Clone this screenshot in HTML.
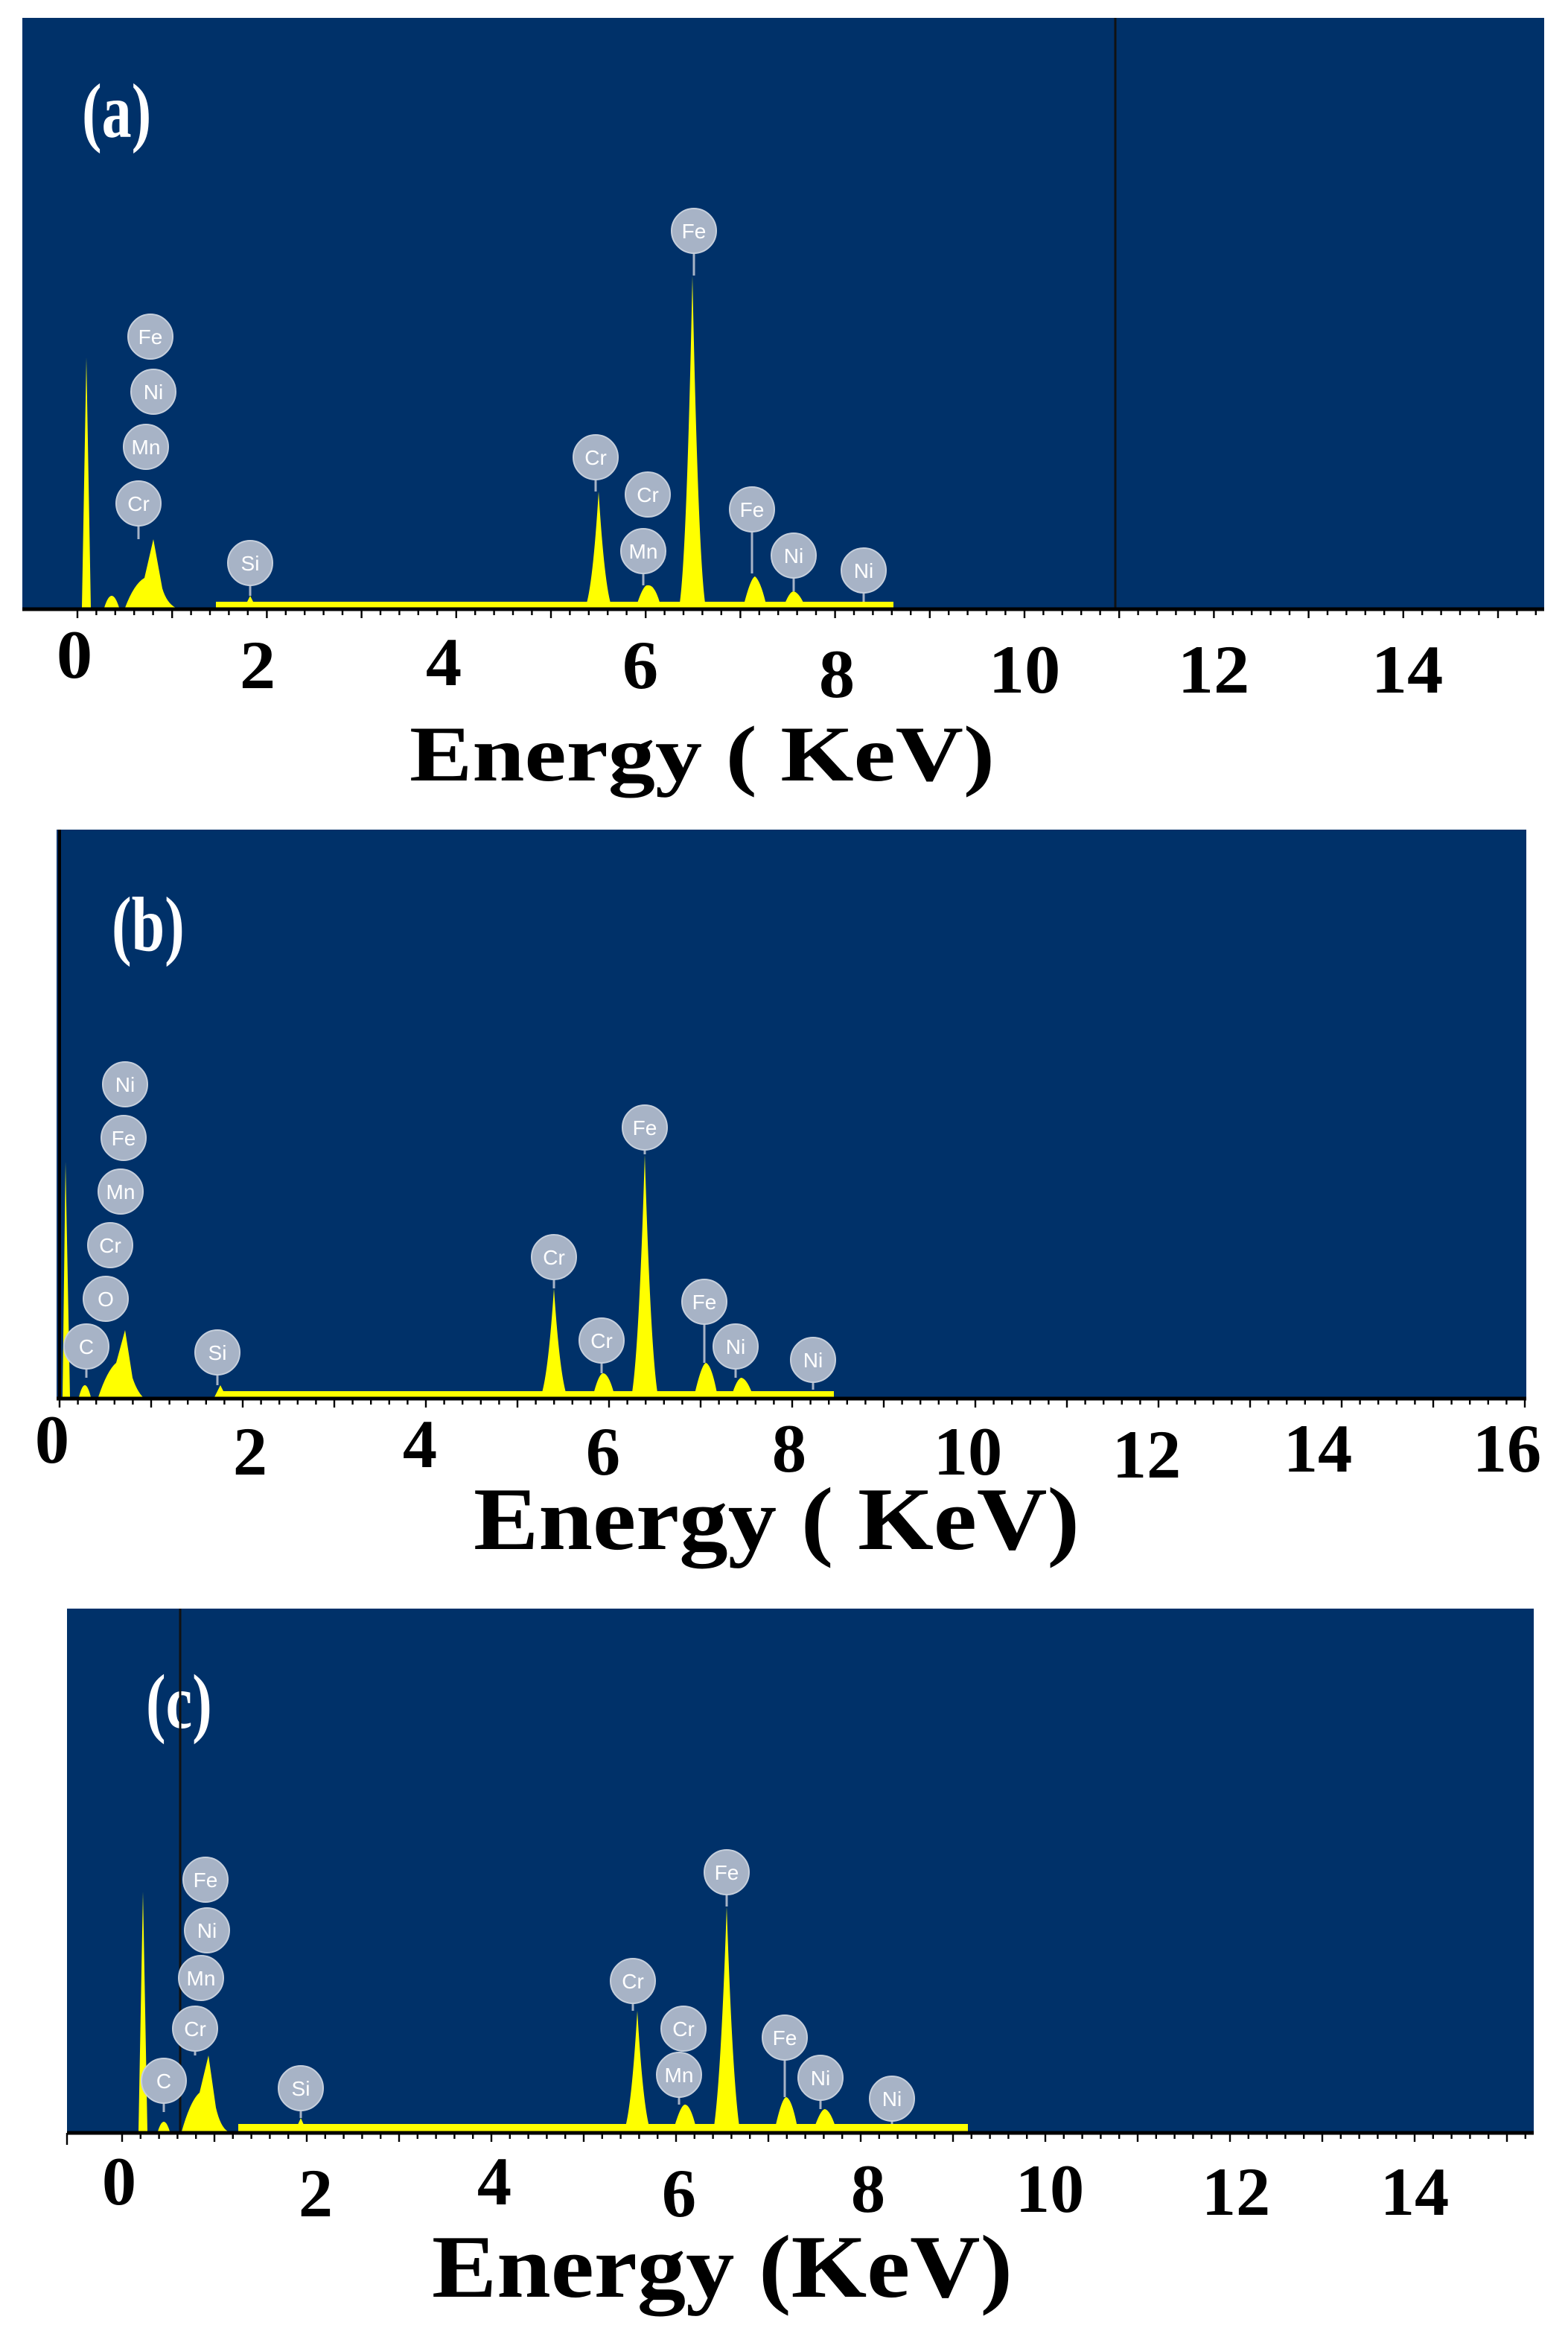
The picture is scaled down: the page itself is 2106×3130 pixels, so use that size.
<!DOCTYPE html>
<html><head><meta charset="utf-8"><style>
html,body{margin:0;padding:0;background:#fff}
svg{display:block}
text{font-family:"Liberation Serif",serif;font-weight:bold}
.lb circle{fill:#a7b3c6;stroke:#c6cfdc;stroke-width:1}
.lb text{font-family:"Liberation Sans",sans-serif;font-weight:normal;fill:#fff;font-size:14px;text-anchor:middle}
.lb line{stroke:#a7b3c6;stroke-width:1.5}
.pk{fill:#ffff00}
</style></head><body>
<svg width="2106" height="3130" viewBox="0 0 1053 1565" xmlns="http://www.w3.org/2000/svg">

<!-- ===== Panel A ===== -->
<rect x="15" y="12" width="1022" height="397" fill="#003169"/>
<line x1="749" y1="12" x2="749" y2="409" stroke="#111" stroke-width="1.5"/>
<text transform="translate(55 92) scale(1 1.3)" fill="#fff" font-size="40">(a)</text>
<rect x="145" y="404" width="455" height="4" class="pk"/>
<g class="pk">
<path d="M55,408 L58,240 L61,408Z"/>
<path d="M70,408 Q75,392 80,408Z"/>
<path d="M84,408 Q90,392 97,388 L103,362 L109,395 Q112,405 118,408Z"/>
<path d="M164,408 L168,400 L172,408Z"/>
<path d="M393,408 Q398,395 402,330 Q406,395 411,408Z"/>
<path d="M427,408 Q432,392 435,393 Q440,392 444,408Z"/>
<path d="M456,408 Q461,380 465,185 Q469,380 474,408Z"/>
<path d="M499,408 Q504,388 507,387 Q511,390 515,408Z"/>
<path d="M526,408 Q530,397 533,397 Q537,398 541,408Z"/>
</g>
<line x1="15" y1="409" x2="1037" y2="409" stroke="#000" stroke-width="2.5"/>
<g stroke="#000" stroke-width="1.2">
<path d="M52,409v6M64.7,409v4M77.4,409v4M90.1,409v4M102.8,409v4M115.6,409v6M128.3,409v4M141,409v4M153.7,409v4M166.4,409v4M179.2,409v6M191.9,409v4M204.6,409v4M217.3,409v4M230,409v4M242.8,409v6M255.5,409v4M268.2,409v4M280.9,409v4M293.6,409v4M306.4,409v6M319.1,409v4M331.8,409v4M344.5,409v4M357.2,409v4M370,409v6M382.7,409v4M395.4,409v4M408.1,409v4M420.8,409v4M433.6,409v6M446.3,409v4M459,409v4M471.7,409v4M484.4,409v4M497.2,409v6M509.9,409v4M522.6,409v4M535.3,409v4M548,409v4M560.8,409v6M573.5,409v4M586.2,409v4M598.9,409v4M611.6,409v4M624.4,409v6M637.1,409v4M649.8,409v4M662.5,409v4M675.2,409v4M688,409v6M700.7,409v4M713.4,409v4M726.1,409v4M738.8,409v4M751.6,409v6M764.3,409v4M777,409v4M789.7,409v4M802.4,409v4M815.2,409v6M827.9,409v4M840.6,409v4M853.3,409v4M866,409v4M878.8,409v6M891.5,409v4M904.2,409v4M916.9,409v4M929.6,409v4M942.4,409v6M955.1,409v4M967.8,409v4M980.5,409v4M993.2,409v4M1006,409v6M1018.7,409v4M1031.4,409v4"/>
</g>
<g font-size="42" text-anchor="middle">
<text transform="translate(50 455) scale(1.15 1.1)">0</text>
<text transform="translate(173 462) scale(1.15 1.1)">2</text>
<text transform="translate(298 460) scale(1.15 1.1)">4</text>
<text transform="translate(430 462) scale(1.15 1.1)">6</text>
<text transform="translate(562 468) scale(1.15 1.1)">8</text>
<text transform="translate(688 465) scale(1.15 1.1)">10</text>
<text transform="translate(815 465) scale(1.15 1.1)">12</text>
<text transform="translate(945 465) scale(1.15 1.1)">14</text>
</g>
<text transform="translate(275 524) scale(1 1.2)" font-size="44" textLength="393" lengthAdjust="spacingAndGlyphs">Energy ( KeV)</text>

<g class="lb">
<line x1="466" y1="160" x2="466" y2="185"/><circle cx="466" cy="155" r="15"/><text x="466" y="160">Fe</text>
<line x1="93" y1="340" x2="93" y2="362"/>
<circle cx="101" cy="226" r="15"/><text x="101" y="231">Fe</text>
<circle cx="103" cy="263" r="15"/><text x="103" y="268">Ni</text>
<circle cx="98" cy="300" r="15"/><text x="98" y="305">Mn</text>
<circle cx="93" cy="338" r="15"/><text x="93" y="343">Cr</text>
<line x1="168" y1="380" x2="168" y2="400"/><circle cx="168" cy="378" r="15"/><text x="168" y="383">Si</text>
<line x1="400" y1="310" x2="400" y2="330"/><circle cx="400" cy="307" r="15"/><text x="400" y="312">Cr</text>
<circle cx="435" cy="332" r="15"/><text x="435" y="337">Cr</text>
<line x1="432" y1="375" x2="432" y2="393"/><circle cx="432" cy="370" r="15"/><text x="432" y="375">Mn</text>
<line x1="505" y1="345" x2="505" y2="385"/><circle cx="505" cy="342" r="15"/><text x="505" y="347">Fe</text>
<line x1="533" y1="375" x2="533" y2="397"/><circle cx="533" cy="373" r="15"/><text x="533" y="378">Ni</text>
<line x1="580" y1="385" x2="580" y2="404"/><circle cx="580" cy="383" r="15"/><text x="580" y="388">Ni</text>
</g>

<!-- ===== Panel B ===== -->
<rect x="38" y="557" width="987" height="382" fill="#003169"/>
<line x1="40" y1="557" x2="40" y2="940" stroke="#000" stroke-width="2"/>
<text transform="translate(75 638) scale(1 1.3)" fill="#fff" font-size="40">(b)</text>
<rect x="150" y="934" width="410" height="4" class="pk"/>
<g class="pk">
<path d="M42,938 L44,780 L47,938Z"/>
<path d="M53,938 Q57,922 61,938Z"/>
<path d="M66,938 Q72,920 78,915 L84,893 L89,925 Q92,934 96,938Z"/>
<path d="M144,938 L148,930 L152,938Z"/>
<path d="M363,938 Q368,925 372,865 Q376,925 381,938Z"/>
<path d="M398,938 Q402,922 405,922 Q409,922 413,938Z"/>
<path d="M424,938 Q429,910 433,775 Q437,910 442,938Z"/>
<path d="M466,938 Q471,916 474,915 Q478,916 482,938Z"/>
<path d="M491,938 Q495,925 498,925 Q502,926 506,938Z"/>
</g>
<line x1="38" y1="939" x2="1025" y2="939" stroke="#000" stroke-width="2.5"/>
<g stroke="#000" stroke-width="1.2">
<path d="M40,939v6M52.3,939v4M64.6,939v4M76.9,939v4M89.2,939v4M101.5,939v6M113.8,939v4M126.1,939v4M138.4,939v4M150.7,939v4M163,939v6M175.3,939v4M187.6,939v4M199.9,939v4M212.2,939v4M224.5,939v6M236.8,939v4M249.1,939v4M261.4,939v4M273.7,939v4M286,939v6M298.3,939v4M310.6,939v4M322.9,939v4M335.2,939v4M347.5,939v6M359.8,939v4M372.1,939v4M384.4,939v4M396.7,939v4M409,939v6M421.3,939v4M433.6,939v4M445.9,939v4M458.2,939v4M470.5,939v6M482.8,939v4M495.1,939v4M507.4,939v4M519.7,939v4M532,939v6M544.3,939v4M556.6,939v4M568.9,939v4M581.2,939v4M593.5,939v6M605.8,939v4M618.1,939v4M630.4,939v4M642.7,939v4M655,939v6M667.3,939v4M679.6,939v4M691.9,939v4M704.2,939v4M716.5,939v6M728.8,939v4M741.1,939v4M753.4,939v4M765.7,939v4M778,939v6M790.3,939v4M802.6,939v4M814.9,939v4M827.2,939v4M839.5,939v6M851.8,939v4M864.1,939v4M876.4,939v4M888.7,939v4M901,939v6M913.3,939v4M925.6,939v4M937.9,939v4M950.2,939v4M962.5,939v6M974.8,939v4M987.1,939v4M999.4,939v4M1011.7,939v4M1024,939v6"/>
</g>
<g font-size="42" text-anchor="middle">
<text transform="translate(35 982) scale(1.1 1.1)">0</text>
<text transform="translate(168 990) scale(1.1 1.1)">2</text>
<text transform="translate(282 985) scale(1.1 1.1)">4</text>
<text transform="translate(405 990) scale(1.1 1.1)">6</text>
<text transform="translate(530 988) scale(1.1 1.1)">8</text>
<text transform="translate(650 990) scale(1.1 1.1)">10</text>
<text transform="translate(770 992) scale(1.1 1.1)">12</text>
<text transform="translate(885 988) scale(1.1 1.1)">14</text>
<text transform="translate(1012 988) scale(1.1 1.1)">16</text>
</g>
<text transform="translate(318 1040) scale(1 1.2)" font-size="50" textLength="407" lengthAdjust="spacingAndGlyphs">Energy ( KeV)</text>

<g class="lb">
<circle cx="84" cy="728" r="15"/><text x="84" y="733">Ni</text>
<circle cx="83" cy="764" r="15"/><text x="83" y="769">Fe</text>
<circle cx="81" cy="800" r="15"/><text x="81" y="805">Mn</text>
<circle cx="74" cy="836" r="15"/><text x="74" y="841">Cr</text>
<circle cx="71" cy="872" r="15"/><text x="71" y="877">O</text>
<line x1="58" y1="906" x2="58" y2="925"/><circle cx="58" cy="904" r="15"/><text x="58" y="909">C</text>
<line x1="146" y1="910" x2="146" y2="930"/><circle cx="146" cy="908" r="15"/><text x="146" y="913">Si</text>
<line x1="372" y1="847" x2="372" y2="865"/><circle cx="372" cy="844" r="15"/><text x="372" y="849">Cr</text>
<line x1="433" y1="760" x2="433" y2="775"/><circle cx="433" cy="757" r="15"/><text x="433" y="762">Fe</text>
<line x1="404" y1="903" x2="404" y2="922"/><circle cx="404" cy="900" r="15"/><text x="404" y="905">Cr</text>
<line x1="473" y1="877" x2="473" y2="915"/><circle cx="473" cy="874" r="15"/><text x="473" y="879">Fe</text>
<line x1="494" y1="907" x2="494" y2="925"/><circle cx="494" cy="904" r="15"/><text x="494" y="909">Ni</text>
<line x1="546" y1="916" x2="546" y2="933"/><circle cx="546" cy="913" r="15"/><text x="546" y="918">Ni</text>
</g>

<!-- ===== Panel C ===== -->
<rect x="45" y="1080" width="985" height="352" fill="#003169"/>
<text transform="translate(98 1160) scale(1 1.3)" fill="#fff" font-size="40">(c)</text>
<rect x="160" y="1426" width="490" height="5" class="pk"/>
<g class="pk">
<path d="M93,1431 L96,1270 L99,1431Z"/>
<path d="M106,1431 Q110,1418 114,1431Z"/>
<path d="M122,1431 Q128,1410 134,1405 L140,1380 L145,1415 Q148,1428 153,1431Z"/>
<path d="M198,1431 L202,1422 L206,1431Z"/>
<path d="M419,1431 Q424,1418 428,1350 Q432,1418 437,1431Z"/>
<path d="M452,1431 Q457,1413 460,1413 Q464,1413 468,1431Z"/>
<path d="M479,1431 Q484,1400 488,1280 Q492,1400 497,1431Z"/>
<path d="M520,1431 Q525,1408 528,1408 Q532,1409 536,1431Z"/>
<path d="M546,1431 Q551,1416 554,1416 Q558,1417 562,1431Z"/>
</g>
<line x1="121" y1="1080" x2="121" y2="1432" stroke="#111" stroke-width="1.5"/>
<line x1="45" y1="1432" x2="1030" y2="1432" stroke="#000" stroke-width="2.5"/>
<g stroke="#000" stroke-width="1.2">
<path d="M82,1432v6M94.4,1432v4M106.8,1432v4M119.2,1432v4M131.6,1432v4M144,1432v6M156.4,1432v4M168.8,1432v4M181.2,1432v4M193.6,1432v4M206,1432v6M218.4,1432v4M230.8,1432v4M243.2,1432v4M255.6,1432v4M268,1432v6M280.4,1432v4M292.8,1432v4M305.2,1432v4M317.6,1432v4M330,1432v6M342.4,1432v4M354.8,1432v4M367.2,1432v4M379.6,1432v4M392,1432v6M404.4,1432v4M416.8,1432v4M429.2,1432v4M441.6,1432v4M454,1432v6M466.4,1432v4M478.8,1432v4M491.2,1432v4M503.6,1432v4M516,1432v6M528.4,1432v4M540.8,1432v4M553.2,1432v4M565.6,1432v4M578,1432v6M590.4,1432v4M602.8,1432v4M615.2,1432v4M627.6,1432v4M640,1432v6M652.4,1432v4M664.8,1432v4M677.2,1432v4M689.6,1432v4M702,1432v6M714.4,1432v4M726.8,1432v4M739.2,1432v4M751.6,1432v4M764,1432v6M776.4,1432v4M788.8,1432v4M801.2,1432v4M813.6,1432v4M826,1432v6M838.4,1432v4M850.8,1432v4M863.2,1432v4M875.6,1432v4M888,1432v6M900.4,1432v4M912.8,1432v4M925.2,1432v4M937.6,1432v4M950,1432v6M962.4,1432v4M974.8,1432v4M987.2,1432v4M999.6,1432v4M1012,1432v6M1024.4,1432v4M45,1432v8"/>
</g>
<g font-size="42" text-anchor="middle">
<text transform="translate(80 1480) scale(1.1 1.1)">0</text>
<text transform="translate(212 1488) scale(1.1 1.1)">2</text>
<text transform="translate(332 1480) scale(1.1 1.1)">4</text>
<text transform="translate(456 1488) scale(1.1 1.1)">6</text>
<text transform="translate(583 1485) scale(1.1 1.1)">8</text>
<text transform="translate(705 1485) scale(1.1 1.1)">10</text>
<text transform="translate(830 1487) scale(1.1 1.1)">12</text>
<text transform="translate(950 1487) scale(1.1 1.1)">14</text>
</g>
<text transform="translate(290 1542) scale(1 1.2)" font-size="50" textLength="390" lengthAdjust="spacingAndGlyphs">Energy (KeV)</text>

<g class="lb">
<circle cx="138" cy="1262" r="15"/><text x="138" y="1267">Fe</text>
<circle cx="139" cy="1296" r="15"/><text x="139" y="1301">Ni</text>
<circle cx="135" cy="1328" r="15"/><text x="135" y="1333">Mn</text>
<line x1="131" y1="1365" x2="131" y2="1380"/><circle cx="131" cy="1362" r="15"/><text x="131" y="1367">Cr</text>
<line x1="110" y1="1400" x2="110" y2="1418"/><circle cx="110" cy="1397" r="15"/><text x="110" y="1402">C</text>
<line x1="202" y1="1405" x2="202" y2="1422"/><circle cx="202" cy="1402" r="15"/><text x="202" y="1407">Si</text>
<line x1="425" y1="1333" x2="425" y2="1350"/><circle cx="425" cy="1330" r="15"/><text x="425" y="1335">Cr</text>
<circle cx="459" cy="1362" r="15"/><text x="459" y="1367">Cr</text>
<line x1="456" y1="1396" x2="456" y2="1413"/><circle cx="456" cy="1393" r="15"/><text x="456" y="1398">Mn</text>
<line x1="488" y1="1260" x2="488" y2="1280"/><circle cx="488" cy="1257" r="15"/><text x="488" y="1262">Fe</text>
<line x1="527" y1="1371" x2="527" y2="1408"/><circle cx="527" cy="1368" r="15"/><text x="527" y="1373">Fe</text>
<line x1="551" y1="1398" x2="551" y2="1416"/><circle cx="551" cy="1395" r="15"/><text x="551" y="1400">Ni</text>
<line x1="599" y1="1412" x2="599" y2="1426"/><circle cx="599" cy="1409" r="15"/><text x="599" y="1414">Ni</text>
</g>
</svg>
</body></html>
